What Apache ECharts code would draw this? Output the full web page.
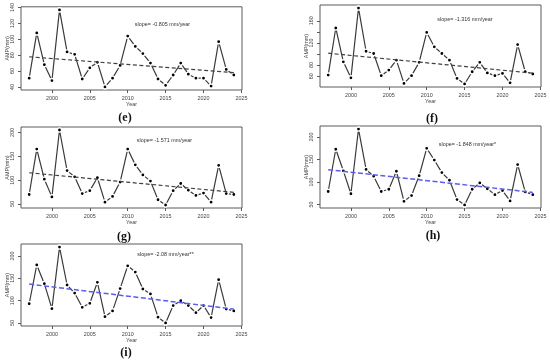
<!DOCTYPE html>
<html>
<head>
<meta charset="utf-8">
<script src="https://cdn.jsdelivr.net/npm/echarts@6/dist/echarts.min.js"></script>
<style>
html,body{margin:0;padding:0;background:#fff;}
#c{width:550px;height:362px;}
</style>
</head>
<body>
<div id="c"></div>
<script>
// ---- data ----
var years = [1997,1998,1999,2000,2001,2002,2003,2004,2005,2006,2007,2008,2009,2010,2011,2012,2013,2014,2015,2016,2017,2018,2019,2020,2021,2022,2023,2024];
var ampE = [51,108,68,48,137,84,81,50,64,71,40,51,67,104,91,82,70,50,42,55,70,56,51,51,41,97,62,55];
var ampF = [62,147,86,57,183,105,101,61,71,89,47,61,85,139,113,101,89,56,46,68,85,66,61,65,48,117,68,64];
var ampG = [70,165,102,65,205,120,107,72,78,105,54,66,96,165,132,111,98,59,48,78,93,79,68,73,54,131,72,70];
var ampH = [79,173,125,74,218,128,113,79,84,124,57,70,114,175,149,121,104,61,49,84,98,85,72,81,58,139,78,72];
var ampI = [93,180,138,82,220,135,117,85,94,141,64,77,127,178,164,126,115,63,50,89,100,89,73,89,62,147,81,77];
// trend line values at first and last year
var trendE = [78, 58];
var trendF = [101.5, 65.5];
var trendG = [115.5, 74.5];
var trendH = [127.5, 77];
var trendI = [137, 81];
var slopeE = "slope= -0.805 mm/year";
var slopeF = "slope= -1.316 mm/year";
var slopeG = "slope= -1.571 mm/year";
var slopeH = "slope= -1.848 mm/year*";
var slopeI = "slope= -2.08 mm/year**";
var panelLetters = ["(e)","(f)","(g)","(h)","(i)"];
var xTicks = [2000,2005,2010,2015,2020,2025];
var yTicksE = [40,60,80,100,120,140];
var yTicksF = [60,80,100,120,140,160];
var yLabelsF = [60,80,120,160];
var yTicksG = [50,100,150,200];
var yTicksH = [50,100,150,200];
var yTicksI = [50,100,150,200];

// ---- layout ----
var SANS = '"Liberation Sans", Arial, sans-serif';
var SERIF = '"Liberation Serif", "Times New Roman", serif';
var FS = 5.4;
var panels = [
  {amp: ampE, trend: trendE, slope: slopeE, yT: yTicksE, yL: yTicksE, grid:{left:21, top:5, width:221, height:85}, blue:false, sx:162.5, sy:24.5, lx:125, ly:118},
  {amp: ampF, trend: trendF, slope: slopeF, yT: yTicksF, yL: yLabelsF, grid:{left:320, top:5, width:221, height:82}, blue:false, sx:465, sy:20, lx:432, ly:119},
  {amp: ampG, trend: trendG, slope: slopeG, yT: yTicksG, yL: yTicksG, grid:{left:21, top:127, width:221, height:81}, blue:false, sx:164.5, sy:141, lx:124, ly:237},
  {amp: ampH, trend: trendH, slope: slopeH, yT: yTicksH, yL: yTicksH, grid:{left:320, top:126, width:221, height:82}, blue:true, sx:467.5, sy:145, lx:433, ly:236},
  {amp: ampI, trend: trendI, slope: slopeI, yT: yTicksI, yL: yTicksI, grid:{left:21, top:244, width:221, height:82}, blue:true, sx:165.5, sy:255, lx:126, ly:353}
];

function padRange(arr){
  var mn = Math.min.apply(null, arr), mx = Math.max.apply(null, arr);
  var p = (mx - mn) * 0.04;
  return [mn - p, mx + p];
}
var xr = padRange(years);
function plain(v){ return String(Math.round(v)); }

var grids = [], xAxes = [], yAxes = [], series = [], graphics = [];
panels.forEach(function(p, i){
  grids.push(Object.assign({show:true, borderColor:'#5a5a5a', borderWidth:1, backgroundColor:'transparent', containLabel:false}, p.grid));
  xAxes.push({
    gridIndex:i, type:'value', min:xr[0], max:xr[1],
    axisLine:{show:false},
    axisTick:{show:true, length:3, customValues:xTicks, lineStyle:{color:'#5a5a5a', width:1}},
    axisLabel:{customValues:xTicks, formatter:plain, fontSize:FS, color:'#444', margin:6, fontFamily:SANS},
    splitLine:{show:false},
    name:'Year', nameLocation:'middle', nameGap:12,
    nameTextStyle:{fontSize:FS, color:'#444', fontFamily:SANS}
  });
  var yr = padRange(p.amp);
  yAxes.push({
    gridIndex:i, type:'value', min:yr[0], max:yr[1],
    axisLine:{show:false},
    axisTick:{show:true, length:3, customValues:p.yT, lineStyle:{color:'#5a5a5a', width:1}},
    axisLabel:{customValues:p.yL, formatter:plain, rotate:90, fontSize:FS, color:'#444', margin:5.5, fontFamily:SANS},
    splitLine:{show:false},
    name:'AMP(mm)', nameLocation:'middle', nameGap:11,
    nameTextStyle:{fontSize:FS, color:'#444', fontFamily:SANS}
  });
  series.push({
    type:'line', xAxisIndex:i, yAxisIndex:i,
    data: years.map(function(y, k){ return [y, p.amp[k]]; }),
    symbol:'circle', symbolSize:4.2,
    lineStyle:{color:'#3a3a3a', width:1.2},
    itemStyle:{color:'#000', borderColor:'#fff', borderWidth:1.4},
    silent:true, animation:false, z:2
  });
  series.push({
    type:'line', xAxisIndex:i, yAxisIndex:i,
    data: [[years[0], p.trend[0]], [years[years.length-1], p.trend[1]]],
    symbol:'none',
    lineStyle: p.blue ? {color:'#5b5bf5', width:1.5, type:[5,2.5]} : {color:'#404040', width:1.2, type:[4,2.5]},
    silent:true, animation:false, z:3
  });
  graphics.push({type:'text', x:p.sx, y:p.sy, style:{text:p.slope, x:0, y:0, align:'center', verticalAlign:'middle', font:FS+'px '+SANS, fill:'#333'}, z:10});
  graphics.push({type:'text', x:p.lx, y:p.ly, style:{text:panelLetters[i], x:0, y:0, align:'center', verticalAlign:'middle', font:'bold 12px '+SERIF, fill:'#111'}, z:10});
});

var chart = echarts.init(document.getElementById('c'), null, {renderer:'canvas'});
chart.setOption({
  animation:false,
  backgroundColor:'#fff',
  grid: grids,
  xAxis: xAxes,
  yAxis: yAxes,
  series: series,
  graphic: graphics
});
</script>
</body>
</html>
